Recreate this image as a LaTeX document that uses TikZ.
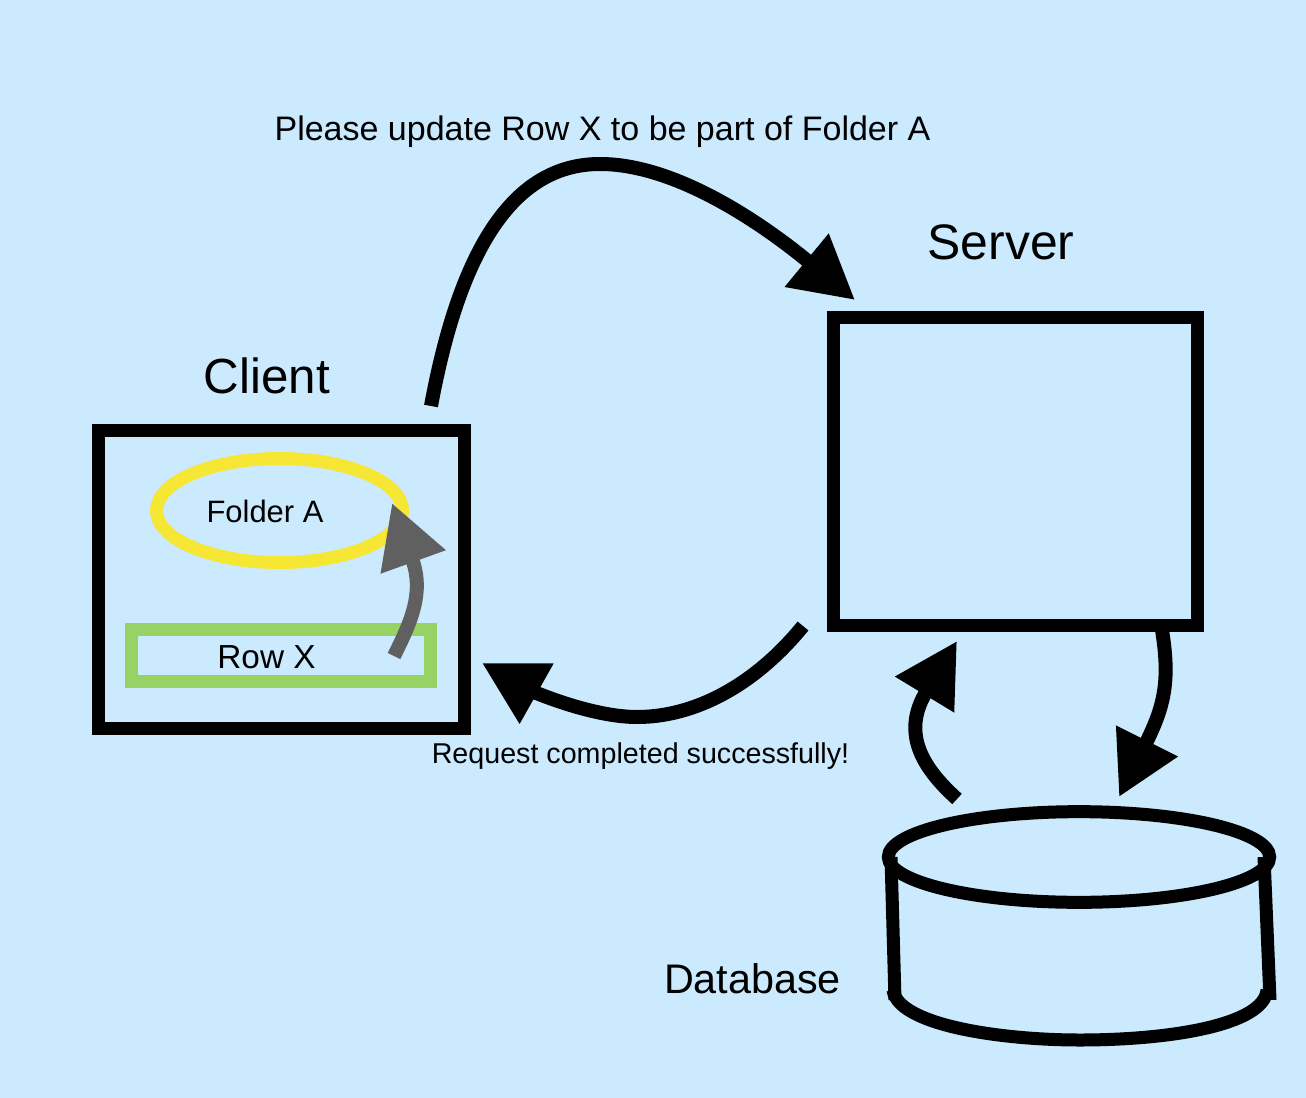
\documentclass[tikz,border=0pt]{standalone}
\usepackage{fontspec}
\setmainfont{Liberation Sans}
\usepackage{xcolor}
\usepackage{tikz}
\usetikzlibrary{arrows.meta,positioning,shapes.geometric}
\definecolor{sky}{HTML}{CBEAFD}
\definecolor{sun}{HTML}{F5E733}
\definecolor{leaf}{HTML}{97D264}
\definecolor{slate}{HTML}{606060}

\begin{document}
\begin{tikzpicture}[x=0.75pt,y=-0.75pt,box/.style={draw=black,line width=9.75pt},flow/.style={line width=10.5pt,-{Triangle[length=47pt,width=49pt]}},lbl/.style={inner sep=0pt,text=black}]
\fill[sky] (0,0) rectangle (1306,1098);
\useasboundingbox (0,0) rectangle (1306,1098);
\node[box,minimum width=274.5pt,minimum height=223.5pt] (client) at (281.5,579.5) {};
\node[box,minimum width=273pt,minimum height=231pt] (server) at (1015.5,471.5) {};
\node[draw=leaf,line width=9.75pt,minimum width=224pt,minimum height=39pt] (rowbox) at (281,655.5) {};
\node[draw=sun,line width=9.75pt,ellipse,inner sep=0pt,minimum width=184.5pt,minimum height=78pt] (folder) at (279.5,510.5) {};
\node[draw=black,line width=9.75pt,ellipse,inner sep=0pt,minimum width=286pt,minimum height=68pt] (dbtop) at (1079,857) {};
\node[lbl,font=\fontsize{37}{37}\selectfont] (clientlbl) at (267,376) {Client};
\node[lbl,font=\fontsize{37.4}{37.4}\selectfont] (serverlbl) at (1001,242) {Server};
\node[lbl,font=\fontsize{23.2}{23.2}\selectfont] (folderlbl) at (265,511) {Folder A};
\node[lbl,font=\fontsize{25}{25}\selectfont] (rowlbl) at (266.5,657) {Row X};
\node[lbl,font=\fontsize{31}{31}\selectfont] (dblbl) at (752.5,979) {Database};
\node[lbl,font=\fontsize{25.5}{25.5}\selectfont] (asklbl) at (602.5,132) {Please update Row X to be part of Folder A};
\node[lbl,font=\fontsize{21.5}{21.5}\selectfont] (donelbl) at (640.5,756) {Request completed successfully!};
\coordinate (askfrom) at (431,406);
\coordinate (askto) at (855,300);
\coordinate (donefrom) at (803,626);
\coordinate (doneto) at (482,663);
\coordinate (movefrom) at (394,656);
\coordinate (moveto) at (392,503);
\coordinate (writefrom) at (1162,630);
\coordinate (writeto) at (1119,797);
\coordinate (readfrom) at (957,799);
\coordinate (readto) at (957,641);
\coordinate (dbtl) at (891,857);
\coordinate (dbtr) at (1264,857);
\coordinate (dbbl) at (895,1000);
\coordinate (dbbr) at (1270,1000);
\draw[flow] (askfrom) .. controls (462,238) and (519,164) .. (600,164) .. controls (680,164) and (770,230) .. (askto);
\draw[flow] (donefrom) .. controls (755,685) and (695,717) .. (637,717) .. controls (590,717) and (530,690) .. (doneto);
\draw[flow,slate] (movefrom) .. controls (412,620) and (424,592) .. (moveto);
\draw[flow] (writefrom) .. controls (1170,680) and (1165,705) .. (writeto);
\draw[flow] (readfrom) .. controls (925,770) and (900,735) .. (readto);
\draw[line width=9.75pt] (dbtl)--(dbbl);
\draw[line width=9.75pt] (dbtr)--(dbbr);
\draw[line width=9.75pt] (893,990) .. controls (898,1025) and (1000,1040) .. (1080,1040) .. controls (1170,1040) and (1264,1025) .. (1267,990);
\end{tikzpicture}
\end{document}
